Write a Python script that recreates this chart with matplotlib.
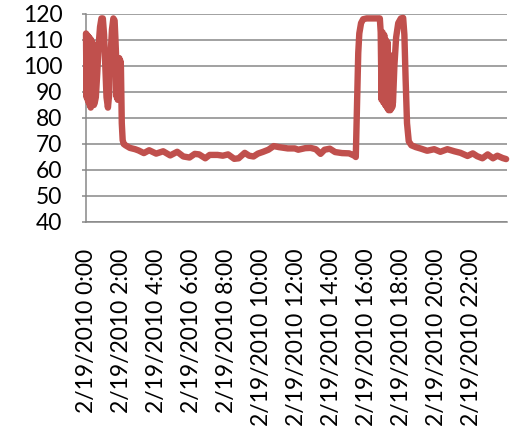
import matplotlib
matplotlib.use("Agg")
import matplotlib.pyplot as plt

# hours after midnight, 2/19/2010, and the reading at that time
hours = [
    0.00, 0.03, 0.06, 0.09, 0.12, 0.15, 0.18, 0.21, 0.24, 0.27, 0.30, 0.33,
    0.36, 0.39, 0.42, 0.45, 0.50, 0.56,
    0.64, 0.72, 0.80, 0.88, 0.96, 1.03, 1.10, 1.17, 1.25, 1.32,
    1.40, 1.48, 1.56, 1.63, 1.68, 1.72, 1.75, 1.78, 1.81, 1.84, 1.87, 1.90,
    1.93, 1.96, 1.99, 2.04, 2.09, 2.15, 2.25,
    2.50, 2.80, 3.00, 3.30, 3.60, 4.00, 4.40, 4.80, 5.20, 5.55, 5.90, 6.20,
    6.45, 6.80, 7.05, 7.50, 7.80, 8.10, 8.45, 8.70, 9.05, 9.30, 9.55, 9.80,
    10.10, 10.40, 10.70, 11.00, 11.50, 11.90, 12.10, 12.50, 12.80, 13.10,
    13.37, 13.60, 13.90, 14.20, 14.60, 15.00, 15.30,
    15.38, 15.45, 15.52, 15.58, 15.68, 15.80, 16.00, 16.40, 16.75,
    16.80, 16.85, 16.90, 16.95, 17.00, 17.05, 17.10, 17.15, 17.20, 17.25,
    17.30, 17.35, 17.40, 17.45, 17.50,
    17.58, 17.68, 17.80, 17.95, 18.08, 18.15, 18.22, 18.30, 18.40, 18.55,
    18.80, 19.10, 19.45, 19.85, 20.20, 20.60, 21.00, 21.35, 21.75, 22.05,
    22.30, 22.60, 22.90, 23.20, 23.45, 23.75, 23.95,
]
values = [
    112.5, 88, 112, 87, 111.5, 86, 111, 85, 110.5, 84, 110, 85,
    109, 86, 108, 85, 86, 88,
    97, 108, 115, 118.3, 118.3, 112, 100, 88, 84, 89,
    104, 114, 118.3, 117.5, 110, 103, 88, 103, 87, 103, 88, 103,
    88, 102, 100, 78, 71.5, 70, 69.5,
    68.5, 68, 67.5, 66.5, 67.6, 66.3, 67.2, 65.6, 67, 65.2, 64.8, 66.2,
    66, 64.5, 65.8, 65.8, 65.5, 66, 64.3, 64.5, 66.6, 65.5, 65.2, 66.3,
    67, 67.8, 69.2, 68.8, 68.3, 68.3, 67.8, 68.4, 68.5, 68,
    66.2, 67.8, 68.2, 66.9, 66.5, 66.4, 65.5,
    65, 85, 105, 112.5, 116.5, 118, 118.3, 118.3, 118.3,
    113, 87, 113, 86, 112, 85, 110, 84, 109, 83,
    104, 83, 104, 84, 86,
    100, 111, 116.5, 118.3, 118.5, 112, 95, 78, 71, 69.5,
    68.8, 68.2, 67.4, 68, 67, 68, 67.2, 66.6, 65.4, 66.4,
    65.3, 64.5, 66, 64.5, 65.5, 64.6, 64.2,
]

tick_hours = [0, 2, 4, 6, 8, 10, 12, 14, 16, 18, 20, 22]
tick_labels = [f"2/19/2010 {h}:00" for h in tick_hours]
y_ticks = [40, 50, 60, 70, 80, 90, 100, 110, 120]

plt.rcParams['font.family'] = ['Lato', 'DejaVu Sans']

fig = plt.figure(figsize=(5.19, 4.36), dpi=100)
ax = fig.add_axes([86 / 519, 1 - 222 / 436, (507 - 86) / 519, (222 - 14) / 436])

ax.plot(hours, values, color='#C0504D', lw=4.6, clip_on=False,
        solid_joinstyle='round', solid_capstyle='round', zorder=3)

ax.set_xlim(0, 24)
ax.set_ylim(40, 120)
ax.set_yticks(y_ticks)
ax.set_xticks(tick_hours)
ax.set_xticklabels(tick_labels, rotation=90, ha='center', va='top')

grid_col = '#878787'
ax.yaxis.grid(True, color=grid_col, lw=1.1)
ax.set_axisbelow(True)
for side in ['top', 'right']:
    ax.spines[side].set_visible(False)
for side in ['left', 'bottom']:
    ax.spines[side].set_color(grid_col)
    ax.spines[side].set_linewidth(1.1)

ax.tick_params(axis='y', length=3, width=1.1, color=grid_col, pad=14, labelsize=16.5)
ax.tick_params(axis='x', length=0, pad=19, labelsize=16.5)

fig.savefig('out.png', dpi=100)
